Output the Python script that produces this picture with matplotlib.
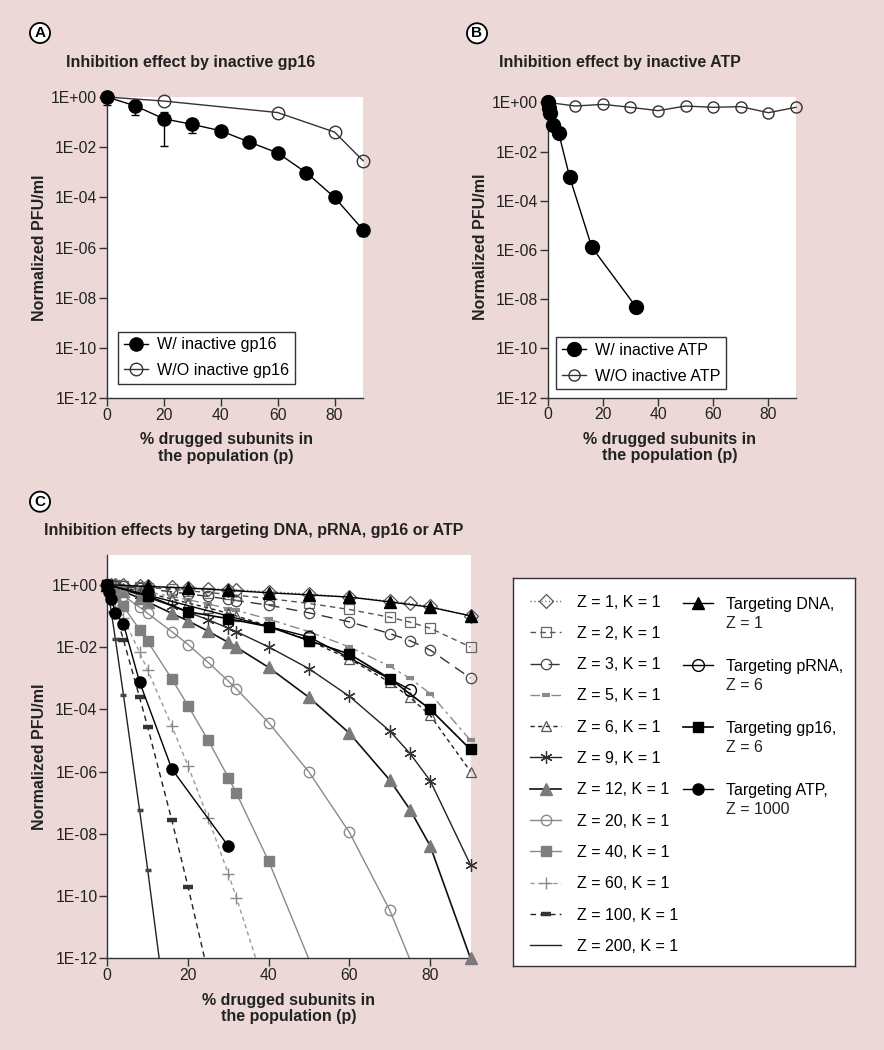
import numpy as np
import matplotlib
matplotlib.use('Agg')
import matplotlib.pyplot as plt
from matplotlib.ticker import FixedLocator, FuncFormatter, NullLocator

plt.rcParams['font.family'] = ['Liberation Sans', 'DejaVu Sans']

W, H = 884, 1050
BG = '#ebd8d7'

# ---- panel A : inactive gp16
a_x_w = [0, 10, 20, 30, 40, 50, 60, 70, 80, 90]
a_y_w = [1.0, 0.44, 0.135, 0.081, 0.045, 0.016, 0.0059, 9.7e-4, 1.0e-4, 5.1e-6]
a_lo_w = [0.47, 0.19, 0.0115, 0.036, 0.040, 0.016, 0.0059, 9.7e-4, 1.0e-4, 2.75e-6]
a_hi_w = [1.0, 0.67, 0.25, 0.081, 0.045, 0.016, 0.0059, 1.35e-3, 1.2e-4, 5.1e-6]
a_x_wo = [0, 20, 60, 80, 90]
a_y_wo = [1.0, 0.69, 0.24, 0.04, 2.9e-3]

# ---- panel B : inactive ATP
b_x_w = [0, 0.5, 1, 2, 4, 8, 16, 32]
b_y_w = [1.0, 0.57, 0.36, 0.12, 0.055, 8.9e-4, 1.3e-6, 4.9e-9]
b_x_wo = [0, 10, 20, 30, 40, 50, 60, 70, 80, 90]
b_y_wo = [1.0, 0.71, 0.83, 0.63, 0.46, 0.71, 0.63, 0.67, 0.38, 0.63]

# ---- panel C : model curves (K = 1)
c_p = [0, 1, 2, 4, 8, 10, 16, 20, 25, 30, 32, 40, 50, 60, 70, 75, 80, 90]
c_z1 = [1, 0.99, 0.98, 0.96, 0.92, 0.9, 0.84, 0.8, 0.75, 0.7, 0.68, 0.6, 0.5, 0.4, 0.3, 0.25, 0.2, 0.1]
c_z2 = [1, 0.98, 0.96, 0.92, 0.85, 0.81, 0.71, 0.64, 0.56, 0.49, 0.46, 0.36, 0.25, 0.16, 0.09, 0.063, 0.04, 0.01]
c_z3 = [1, 0.97, 0.94, 0.88, 0.78, 0.73, 0.59, 0.51, 0.42, 0.34, 0.31, 0.22, 0.125, 0.064, 0.027, 0.016, 0.008, 0.001]
c_z5 = [1, 0.95, 0.90, 0.82, 0.66, 0.59, 0.42, 0.33, 0.24, 0.17, 0.15, 0.078, 0.031, 0.010, 2.4e-3, 9.8e-4, 3.2e-4, 1e-5]
c_z6 = [1, 0.94, 0.89, 0.78, 0.61, 0.53, 0.35, 0.26, 0.18, 0.12, 0.099, 0.047, 0.016, 4.1e-3, 7.3e-4, 2.4e-4, 6.4e-5, 1e-6]
c_z9 = [1, 0.91, 0.83, 0.69, 0.47, 0.39, 0.21, 0.13, 0.075, 0.040, 0.031, 0.010, 2.0e-3, 2.6e-4, 2.0e-5, 3.8e-6, 5.1e-7, 1e-9]
c_z12 = [1, 0.89, 0.79, 0.61, 0.37, 0.28, 0.12, 0.069, 0.032, 0.014, 9.8e-3, 2.2e-3, 2.4e-4, 1.7e-5, 5.3e-7, 6.0e-8, 4.1e-9, 1e-12]
c_z20 = [1, 0.82, 0.67, 0.44, 0.19, 0.12, 0.031, 0.012, 3.2e-3, 8.0e-4, 4.5e-4, 3.7e-5, 9.5e-7, 1.1e-8, 3.5e-11, 9.1e-13, 1.0e-14]
c_z40 = [1, 0.67, 0.45, 0.20, 0.036, 0.015, 9.4e-4, 1.3e-4, 1.0e-5, 6.4e-7, 2.0e-7, 1.3e-9, 9.1e-13, 1.2e-16]
c_z60 = [1, 0.55, 0.30, 0.086, 6.7e-3, 1.8e-3, 2.9e-5, 1.5e-6, 3.2e-8, 5.1e-10, 8.9e-11, 4.9e-14]
c_z100 = [1, 0.37, 0.13, 0.017, 2.4e-4, 2.7e-5, 2.7e-8, 2.0e-10, 3.2e-13]
c_z200 = [1, 0.13, 0.018, 2.9e-4, 5.7e-8, 7.1e-10, 7.2e-16]

# ---- panel C : experimental data
c_dna_x = [0, 10, 20, 30, 40, 50, 60, 70, 80, 90]
c_dna_y = [1, 0.88, 0.78, 0.66, 0.55, 0.47, 0.40, 0.28, 0.19, 0.10]
c_prna_x = [0, 50, 75]
c_prna_y = [1, 0.021, 4.3e-4]
c_gp16_x = a_x_w
c_gp16_y = a_y_w
c_atp_x = [0, 0.5, 1, 2, 4, 8, 16, 30]
c_atp_y = [1.0, 0.57, 0.36, 0.12, 0.055, 7.5e-4, 1.2e-6, 4.0e-9]

yt = [1e0, 1e-2, 1e-4, 1e-6, 1e-8, 1e-10, 1e-12]


def box(l, t, r, b):
    return [l / W, 1 - b / H, (r - l) / W, (b - t) / H]


def style_axes(ax, ytop, xlab_x=0.5):
    ax.set_yscale('log')
    ax.set_ylim(1e-12, ytop)
    ax.set_xlim(0, 90)
    ax.yaxis.set_major_locator(FixedLocator(yt))
    ax.yaxis.set_minor_locator(NullLocator())
    ax.yaxis.set_major_formatter(FuncFormatter(lambda v, pos: '1E%+03d' % round(np.log10(v))))
    ax.set_xticks([0, 20, 40, 60, 80])
    for s in ['top', 'right']:
        ax.spines[s].set_visible(False)
    for s in ['left', 'bottom']:
        ax.spines[s].set_color('#333333')
        ax.spines[s].set_linewidth(1)
    ax.tick_params(direction='out', length=5.5, width=1, color='#333333',
                   labelsize=11.3, labelcolor='#222222', pad=1.5)
    ax.set_xlabel('% drugged subunits in\nthe population (p)', fontsize=11.5,
                  fontweight='bold', labelpad=7, color='#222222', linespacing=1.1)
    ax.xaxis.label.set_x(xlab_x)
    ax.set_ylabel('Normalized PFU/ml', fontsize=11.5, fontweight='bold',
                  labelpad=3, color='#222222')
    ax.set_facecolor('white')


def letter(x, y, s):
    fig.text(x / W, 1 - y / H, s, fontsize=11, fontweight='bold', ha='center', va='center',
             bbox=dict(boxstyle='circle,pad=0.2', fc='white', ec='black', lw=1.3))


fig = plt.figure(figsize=(W / 100, H / 100), dpi=100, facecolor=BG)

leg_kw = dict(loc='upper left', borderaxespad=0, fontsize=11.6, handlelength=1.5,
              handletextpad=0.55, labelspacing=0.66, borderpad=0.35,
              fancybox=False, framealpha=1, edgecolor='#333333')

# ---------------- A
axA = fig.add_axes(box(107, 97, 363, 398))
style_axes(axA, 1.0, 0.465)
axA.errorbar(a_x_w, a_y_w, yerr=[np.subtract(a_y_w, a_lo_w), np.subtract(a_hi_w, a_y_w)],
             fmt='none', ecolor='black', elinewidth=1, capsize=3, clip_on=False, zorder=2)
axA.plot(a_x_wo, a_y_wo, '-o', color='#333333', mfc='none', mec='#333333', ms=9, mew=1,
         lw=1, clip_on=False, label='W/O inactive gp16', zorder=3)
axA.plot(a_x_w, a_y_w, '-o', color='black', ms=9.5, lw=1, clip_on=False,
         label='W/ inactive gp16', zorder=4)
hA, lA = axA.get_legend_handles_labels()
axA.legend(hA[::-1], lA[::-1], bbox_to_anchor=(0.044, 0.22), **leg_kw)
fig.text(65.7 / W, 1 - 62.7 / H, 'Inhibition effect by inactive gp16', fontsize=11.5,
         fontweight='bold', ha='left', va='center', color='#222222')
letter(40, 33, 'A')

# ---------------- B
axB = fig.add_axes(box(547.7, 96.7, 796, 397.7))
style_axes(axB, 1.7, 0.49)
axB.plot(b_x_wo, b_y_wo, '-o', color='#333333', mfc='none', mec='#333333', ms=8, mew=1,
         lw=1, clip_on=False, label='W/O inactive ATP', zorder=3)
axB.plot(b_x_w, b_y_w, '-o', color='black', ms=10, lw=1, clip_on=False,
         label='W/ inactive ATP', zorder=4)
hB, lB = axB.get_legend_handles_labels()
axB.legend(hB[::-1], lB[::-1], bbox_to_anchor=(0.034, 0.20), **leg_kw)
fig.text(499.3 / W, 1 - 62.7 / H, 'Inhibition effect by inactive ATP', fontsize=11.5,
         fontweight='bold', ha='left', va='center', color='#222222')
letter(477, 33.3, 'B')

# ---------------- C
axC = fig.add_axes(box(107.3, 555, 470.5, 958.3))
style_axes(axC, 9.0)

c_curves = [
    ('Z = 1, K = 1', c_z1, dict(ls=':', color='#777777'),
     dict(marker='D', ms=7.5, mfc='none', mec='#555555', mew=0.9)),
    ('Z = 2, K = 1', c_z2, dict(dashes=(4, 3), color='#555555'),
     dict(marker='s', ms=6.5, mfc='none', mec='#666666', mew=0.9)),
    ('Z = 3, K = 1', c_z3, dict(dashes=(8, 5), color='#333333'),
     dict(marker='o', ms=7.5, mfc='none', mec='#444444', mew=0.9)),
    ('Z = 5, K = 1', c_z5, dict(dashes=(7, 3, 2, 3), color='#8a8a8a'),
     dict(marker='_', ms=6, mec='#8a8a8a', mew=3)),
    ('Z = 6, K = 1', c_z6, dict(dashes=(3, 2.5), color='#222222'),
     dict(marker='^', ms=7.5, mfc='none', mec='#555555', mew=0.9)),
    ('Z = 9, K = 1', c_z9, dict(ls='-', color='#222222'),
     dict(marker=(6, 2, 0), ms=9, mec='#333333', mew=0.9)),
    ('Z = 12, K = 1', c_z12, dict(ls='-', color='#111111', lw=1.2),
     dict(marker='^', ms=8, mfc='#7a7a7a', mec='#7a7a7a')),
    ('Z = 20, K = 1', c_z20, dict(ls='-', color='#8a8a8a'),
     dict(marker='o', ms=7.5, mfc='none', mec='#8a8a8a', mew=1)),
    ('Z = 40, K = 1', c_z40, dict(ls='-', color='#8a8a8a'),
     dict(marker='s', ms=7, mfc='#7f7f7f', mec='#7f7f7f')),
    ('Z = 60, K = 1', c_z60, dict(dashes=(3, 2.5), color='#9a9a9a'),
     dict(marker='+', ms=9, mec='#8a8a8a', mew=1)),
    ('Z = 100, K = 1', c_z100, dict(dashes=(4, 3), color='#222222'),
     dict(marker='_', ms=7, mec='#333333', mew=3.2)),
    ('Z = 200, K = 1', c_z200, dict(ls='-', color='#222222'),
     dict(marker='_', ms=5, mec='#444444', mew=2.5)),
]

handles1, labels1 = [], []
for lab, ys, lst, mst in c_curves:
    xs = c_p[:len(ys)]
    kw = dict(lw=1)
    kw.update(lst)
    ln, = axC.plot(xs, ys, zorder=2, **kw)
    keep = [i for i, y in enumerate(ys) if y >= 1e-12]
    mk, = axC.plot([xs[i] for i in keep], [ys[i] for i in keep], ls='none',
                   clip_on=False, zorder=3, **mst)
    handles1.append(ln if lab.startswith('Z = 200') else (ln, mk))
    labels1.append(lab)

h_dna, = axC.plot(c_dna_x, c_dna_y, '-^', color='black', ms=8.5, lw=1, clip_on=False, zorder=5)
h_prna, = axC.plot(c_prna_x, c_prna_y, '-o', color='black', mfc='none', ms=8.5, mew=1,
                   lw=1, clip_on=False, zorder=5)
h_gp16, = axC.plot(c_gp16_x, c_gp16_y, '-s', color='black', ms=7.5, lw=1.2, clip_on=False, zorder=5)
h_atp, = axC.plot(c_atp_x, c_atp_y, '-o', color='black', ms=8, lw=1, clip_on=False, zorder=6)

fig.text(44.3 / W, 1 - 530 / H, 'Inhibition effects by targeting DNA, pRNA, gp16 or ATP',
         fontsize=11.5, fontweight='bold', ha='left', va='center', color='#222222')
letter(40, 501.7, 'C')

# legend box for C
lax = fig.add_axes(box(513.3, 578.3, 855, 966))
lax.set_xticks([])
lax.set_yticks([])
lax.set_facecolor('white')
for s in lax.spines.values():
    s.set_color('#333333')
    s.set_linewidth(1)

leg1 = lax.legend(handles1, labels1, loc='upper left', bbox_to_anchor=(0.049, 0.958),
                  borderaxespad=0, borderpad=0, frameon=False, fontsize=11.5,
                  handlelength=1.95, handletextpad=1.0, labelspacing=1.02)
lax.add_artist(leg1)

second = ['Z = 1', 'Z = 6', 'Z = 6', 'Z = 1000']
leg2 = lax.legend([h_dna, h_prna, h_gp16, h_atp],
                  ['Targeting DNA,', 'Targeting pRNA,', 'Targeting gp16,', 'Targeting ATP,'],
                  loc='upper left', bbox_to_anchor=(0.497, 0.952), borderaxespad=0, borderpad=0,
                  frameon=False, fontsize=11.5, handlelength=1.85, handletextpad=0.85,
                  labelspacing=2.94)
fig.canvas.draw()
inv = fig.transFigure.inverted()
for t, s in zip(leg2.get_texts(), second):
    bb = t.get_window_extent()
    x0, y0 = inv.transform((bb.x0, bb.y0))
    fig.text(x0, y0 - 19 / H, s, fontsize=11.5, ha='left', va='bottom', color='#222222')

fig.savefig('out.png', dpi=100, facecolor=BG)
